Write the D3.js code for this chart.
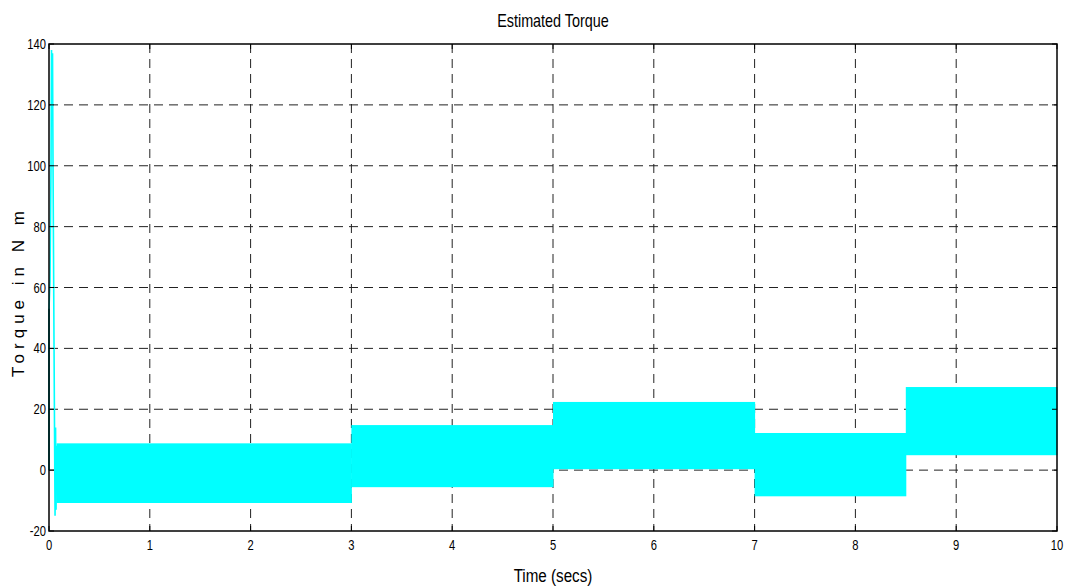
<!DOCTYPE html>
<html><head><meta charset="utf-8">
<script src="https://cdn.jsdelivr.net/npm/d3@7"></script>
<style>body{margin:0;background:#fff}svg{display:block}text{font-family:"Liberation Sans",Arial,sans-serif;fill:#000}</style>
</head><body><svg id="c" width="1067" height="588"></svg>
<script>
const xTicks=[0,1,2,3,4,5,6,7,8,9,10];
const yTicks=[-20,0,20,40,60,80,100,120,140];
// start-up transient (time s, torque N m)
const transT=[0,0,0.01,0.02,0.025,0.03,0.035,0.04,0.05,0.06,0.065,0.07,0.075];
const transV=[0,53,62,100,138,122,137,100,40,-15,14,-13,8];
// ripple band envelope per load step
const segStart=[0.075,3,5,7,8.5];
const segEnd=[3,5,7,8.5,10];
const upper=[8.8,14.8,22.4,12.2,27.3];
const lower=[-10.8,-5.6,0.3,-8.6,4.9];

const svg=d3.select("#c");
const L=49,R=1057,T=44,B=531;
const x=d3.scaleLinear().domain([0,10]).range([L,R]);
const y=d3.scaleLinear().domain([-20,140]).range([B,T]);
const SX=0.8;
function txt(px,py,s,size,anchor,rot){
  const t=svg.append("text").attr("transform","translate("+px+","+py+")"+(rot?" rotate(-90)":"")+" scale("+SX+",1)")
   .attr("text-anchor",anchor).attr("font-size",size).text(s);
  return t;
}

// grid
const g=svg.append("g");
g.selectAll(".vg").data(xTicks.slice(1,-1)).join("line").attr("x1",d=>x(d)).attr("x2",d=>x(d)).attr("y1",T).attr("y2",B)
 .attr("stroke","#222").attr("stroke-width",1).attr("stroke-dasharray","9,6");
g.selectAll(".hg").data(yTicks.slice(1,-1)).join("line").attr("y1",d=>y(d)).attr("y2",d=>y(d)).attr("x1",L).attr("x2",R)
 .attr("stroke","#222").attr("stroke-width",1).attr("stroke-dasharray","9,6");

// band
const band=segStart.map((s,i)=>({s,e:segEnd[i],u:upper[i],l:lower[i]}));
svg.selectAll(".band").data(band).join("rect")
 .attr("x",d=>x(d.s)).attr("width",d=>x(d.e)-x(d.s)+0.5)
 .attr("y",d=>y(d.u)).attr("height",d=>y(d.l)-y(d.u)).attr("fill","#00ffff");
// transient
const line=d3.line().x((d,i)=>x(transT[i])).y(d=>y(d));
svg.append("path").attr("d",line(transV)).attr("fill","none").attr("stroke","#00ffff").attr("stroke-width",1.6);
svg.append("line").attr("x1",x(0)).attr("x2",x(0)).attr("y1",y(0)).attr("y2",y(53)).attr("stroke","#008b8b").attr("stroke-width",1.5);

// box
svg.append("rect").attr("x",L).attr("y",T).attr("width",R-L).attr("height",B-T).attr("fill","none").attr("stroke","#000").attr("stroke-width",1.5);
// ticks
const tk=svg.append("g").attr("stroke","#000");
xTicks.forEach(d=>{tk.append("line").attr("x1",x(d)).attr("x2",x(d)).attr("y1",B).attr("y2",B-5);
 tk.append("line").attr("x1",x(d)).attr("x2",x(d)).attr("y1",T).attr("y2",T+5);});
yTicks.forEach(d=>{tk.append("line").attr("y1",y(d)).attr("y2",y(d)).attr("x1",L).attr("x2",L+5);
 tk.append("line").attr("y1",y(d)).attr("y2",y(d)).attr("x1",R).attr("x2",R-5);});
// labels
xTicks.forEach(d=>txt(x(d),B+19,d,14,"middle"));
yTicks.forEach(d=>txt(L-3,y(d)+5,d,14,"end"));
txt((L+R)/2,27,"Estimated Torque",18,"middle");
txt((L+R)/2,582,"Time (secs)",19,"middle");
svg.append("text").attr("transform","translate(24,"+((T+B)/2+4)+") rotate(-90)").attr("text-anchor","middle").attr("font-size",17).attr("letter-spacing","5px").text("Torque in N m");
</script></body></html>
